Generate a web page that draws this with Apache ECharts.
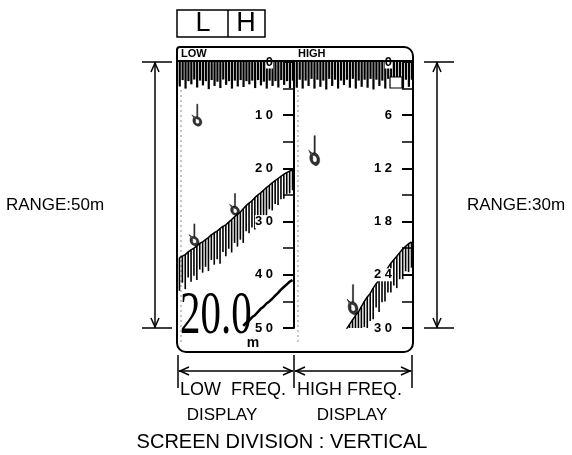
<!DOCTYPE html>
<html>
<head>
<meta charset="utf-8">
<script src="https://cdn.jsdelivr.net/npm/echarts@6/dist/echarts.min.js"></script>
<style>
  html, body { margin: 0; padding: 0; background: #fff; }
  #chart { width: 572px; height: 455px; }
</style>
</head>
<body>
<div id="chart"></div>
<script>
// scan columns (left = oldest, right = newest) – same for both halves
const columns = [];
for (let i = 0; i < 40; i++) columns.push(i);

// seabed depth (m) per column
const bottomDepth = [36.8, 36.5, 36.2, 35.7, 35.3, 35.0, 34.6, 34.1, 33.8, 33.4,
  33.0, 32.5, 32.1, 31.8, 31.3, 30.9, 30.6, 30.1, 29.6, 29.1,
  28.6, 28.2, 27.6, 27.0, 26.5, 26.1, 25.5, 25.0, 24.6, 24.1,
  23.6, 23.2, 22.7, 22.3, 21.9, 21.5, 21.1, 20.8, 20.5, 20.3];
// thickness of seabed echo (m) on each frequency
const bandLow = [6.2, 5.0, 6.5, 4.8, 6.0, 5.2, 6.4, 4.9, 5.8, 5.1,
  6.3, 4.7, 6.0, 5.3, 6.6, 4.8, 5.9, 5.0, 6.2, 4.9,
  6.1, 5.2, 6.4, 4.8, 5.7, 5.0, 6.0, 4.6, 5.6, 4.9,
  5.8, 4.5, 5.2, 4.4, 5.0, 4.3, 4.6, 4.0, 4.2, 3.8];
const bandHigh = [3.6, 2.9, 3.8, 3.0, 3.5, 2.8, 3.9, 3.1, 3.4, 2.9,
  3.7, 3.0, 3.6, 2.8, 3.8, 3.1, 3.5, 2.9, 3.7, 3.0,
  3.9, 3.2, 3.6, 2.9, 3.8, 3.1, 3.5, 2.7, 3.6, 3.0,
  3.4, 2.8, 3.3, 2.9, 3.6, 3.0, 3.4, 2.8, 3.2, 2.9];
// transmission (zero) line echo length (m)
const zeroLow = [4.6, 3.4, 5.0, 3.6, 4.2, 3.3, 4.8, 3.5, 4.4, 3.6,
  5.1, 3.4, 4.5, 3.7, 4.9, 3.3, 4.3, 3.6, 5.0, 3.5,
  4.6, 3.4, 4.7, 3.6, 4.2, 3.5, 4.9, 3.4, 4.4, 3.7,
  5.0, 3.5, 4.5, 3.6, 4.8, 3.4, 4.3, 3.6, 4.9, 3.5];
const zeroHigh = [2.9, 2.0, 3.0, 2.1, 2.7, 1.9, 3.0, 2.0, 2.8, 2.1,
  3.1, 1.9, 2.7, 2.0, 3.0, 2.1, 2.6, 2.0, 2.9, 1.9,
  3.0, 2.1, 2.8, 2.0, 2.9, 1.9, 3.1, 2.0, 2.7, 2.1,
  3.0, 1.9, 2.8, 2.0, 2.9, 2.1, 3.0, 2.0, 2.8, 2.0];
// second (double) bottom echo on low frequency
const doubleBottom = [null, null, null, null, null, null, null, null, null, null,
  null, null, null, null, null, null, null, null, null, null,
  null, null, 49.6, 49.0, 48.6, 48.0, 47.6, 47.0, 46.4, 46.0,
  45.4, 45.0, 44.5, 43.9, 43.4, 42.8, 42.3, 41.8, 41.3, 41.0];
// fish echoes
const fishCols = [6, 19, 5];
const fishDepth = [10.0, 26.8, 32.5];

const lowTicks = { max: 50, interval: 10 };
const highTicks = { max: 30, interval: 6 };

const fishPath = 'path://M4.5,0 L5.5,0 L5.5,11 L4.5,11 Z M2,11 C0,13 1,17 4,18 C7,20 10,17 9,14 C8,11 5,10 2,11 Z M3,12.5 C5,12 7,13 7,15 C7,17 4,17 3.5,15.5 C3,14.5 4,14 3,12.5 Z M0,9 L3,11 L2,12 Z';

const chart = echarts.init(document.getElementById('chart'));

function yAxisFor(idx, t) {
  return {
    type: 'value', gridIndex: idx, inverse: true, min: 0, max: t.max, interval: t.interval,
    position: 'right', z: 20,
    axisLine: { show: true, lineStyle: { color: '#000', width: 2 } },
    axisTick: { show: true, inside: true, length: 11, lineStyle: { color: '#000', width: 2 } },
    minorTick: { show: true, splitNumber: 2, length: 11, lineStyle: { color: '#000', width: 1.5 } },
    axisLabel: {
      inside: true, margin: 21, color: '#000', fontSize: 13, fontWeight: 'bold',
      fontFamily: 'Liberation Sans', backgroundColor: '#fff',
      formatter: v => String(v).split('').join(' ')
    },
    splitLine: { show: false }
  };
}

function echoSeries(idx, zero, band) {
  return [
    {
      type: 'bar', xAxisIndex: idx, yAxisIndex: idx, data: zero, stack: 'z' + idx,
      barWidth: 2.2, barGap: '-100%', itemStyle: { color: '#000' }, silent: true
    },
    {
      type: 'bar', xAxisIndex: idx, yAxisIndex: idx, data: bottomDepth, stack: 's' + idx,
      barWidth: 1.6, barGap: '-100%', itemStyle: { color: 'rgba(0,0,0,0)' }, silent: true
    },
    {
      type: 'bar', xAxisIndex: idx, yAxisIndex: idx, data: band, stack: 's' + idx,
      barWidth: 1.6, barGap: '-100%', itemStyle: { color: '#000' }, silent: true
    },
    {
      type: 'line', xAxisIndex: idx, yAxisIndex: idx, data: bottomDepth, symbol: 'none',
      lineStyle: { color: '#000', width: 1.5 }, silent: true
    },
    {
      type: 'scatter', xAxisIndex: idx, yAxisIndex: idx,
      data: fishCols.map((c, i) => [c, fishDepth[i]]),
      symbol: fishPath, symbolSize: idx === 0 ? [10, 22] : [11, 30],
      itemStyle: { color: '#000', borderColor: '#000', borderWidth: 0.5 }, silent: true
    }
  ];
}

function arrowV(x, y1, y2) {
  return [
    { type: 'line', shape: { x1: x, y1: y1, x2: x, y2: y2 }, style: { stroke: '#000', lineWidth: 1.5 } },
    { type: 'line', shape: { x1: x - 13, y1: y1, x2: x + 17, y2: y1 }, style: { stroke: '#000', lineWidth: 1.5 } },
    { type: 'line', shape: { x1: x - 13, y1: y2, x2: x + 17, y2: y2 }, style: { stroke: '#000', lineWidth: 1.5 } },
    { type: 'polyline', shape: { points: [[x - 4, y1 + 10], [x, y1 + 1], [x + 4, y1 + 10]] }, style: { stroke: '#000', lineWidth: 1.5, fill: null } },
    { type: 'polyline', shape: { points: [[x - 4, y2 - 10], [x, y2 - 1], [x + 4, y2 - 10]] }, style: { stroke: '#000', lineWidth: 1.5, fill: null } }
  ];
}

function arrowH(x1, x2, y) {
  return [
    { type: 'line', shape: { x1: x1, y1: y, x2: x2, y2: y }, style: { stroke: '#000', lineWidth: 1.5 } },
    { type: 'polyline', shape: { points: [[x1 + 10, y - 4], [x1 + 1, y], [x1 + 10, y + 4]] }, style: { stroke: '#000', lineWidth: 1.5, fill: null } },
    { type: 'polyline', shape: { points: [[x2 - 10, y - 4], [x2 - 1, y], [x2 - 10, y + 4]] }, style: { stroke: '#000', lineWidth: 1.5, fill: null } }
  ];
}

function txt(x, y, s, size, align, extra) {
  return {
    type: 'text', x: x, y: y, z: 50,
    style: Object.assign({
      text: s, fill: '#000', font: size + 'px "Liberation Sans"',
      textAlign: align || 'center', textVerticalAlign: 'middle'
    }, extra || {})
  };
}

const graphics = [].concat(
  [
    { type: 'rect', shape: { x: 177, y: 10, width: 88, height: 27 }, style: { stroke: '#000', lineWidth: 1.5, fill: null } },
    { type: 'line', shape: { x1: 228, y1: 10, x2: 228, y2: 37 }, style: { stroke: '#000', lineWidth: 1.5 } },
    txt(203, 24, 'L', 27),
    txt(246, 24, 'H', 27),
    { type: 'rect', z: 60, shape: { x: 177, y: 47, width: 236, height: 305, r: [3, 9, 9, 9] }, style: { stroke: '#000', lineWidth: 2, fill: null } },
    { type: 'line', z: 60, shape: { x1: 178, y1: 61, x2: 412, y2: 61 }, style: { stroke: '#000', lineWidth: 2 } },
    txt(181, 54, 'LOW', 11, 'left', { font: 'bold 11px "Liberation Sans"' }),
    txt(298, 54, 'HIGH', 11, 'left', { font: 'bold 11px "Liberation Sans"' }),
    { type: 'rect', z: 60, shape: { x: 390, y: 77, width: 12, height: 11 }, style: { stroke: '#000', lineWidth: 1.2, fill: '#fff' } },
    { type: 'line', shape: { x1: 181, y1: 90, x2: 181, y2: 345 }, style: { stroke: '#888', lineWidth: 1, lineDash: [2, 3] } },
    { type: 'line', shape: { x1: 298, y1: 90, x2: 298, y2: 345 }, style: { stroke: '#888', lineWidth: 1, lineDash: [2, 3] } },
    txt(55, 205, 'RANGE:50m', 17),
    txt(516, 205, 'RANGE:30m', 17),
    { type: 'line', shape: { x1: 178, y1: 355, x2: 178, y2: 388 }, style: { stroke: '#000', lineWidth: 1.5 } },
    { type: 'line', shape: { x1: 294, y1: 355, x2: 294, y2: 388 }, style: { stroke: '#000', lineWidth: 1.5 } },
    { type: 'line', shape: { x1: 412, y1: 355, x2: 412, y2: 388 }, style: { stroke: '#000', lineWidth: 1.5 } },
    txt(180, 390, 'LOW  FREQ.', 18, 'left'),
    txt(297, 390, 'HIGH FREQ.', 18, 'left'),
    txt(222, 415, 'DISPLAY', 17),
    txt(352, 415, 'DISPLAY', 17),
    txt(282, 442, 'SCREEN DIVISION : VERTICAL', 20),
    {
      type: 'text', x: 180, y: 348, z: 50, scaleX: 0.66,
      style: { text: '20.0', fill: '#000', font: '62px "Liberation Sans Narrow"', textAlign: 'left', textVerticalAlign: 'bottom' }
    },
    txt(253, 343, 'm', 14, 'center', { font: 'bold 14px "Liberation Sans"' })
  ],
  arrowV(155, 62, 328),
  arrowV(437, 62, 328),
  arrowH(179, 293, 371),
  arrowH(295, 411, 371)
);

const option = {
  backgroundColor: '#fff',
  animation: false,
  grid: [
    { left: 178, top: 62, width: 116, height: 266 },
    { left: 295, top: 62, width: 118, height: 266 }
  ],
  xAxis: [
    { type: 'category', gridIndex: 0, data: columns, show: false, boundaryGap: true },
    { type: 'category', gridIndex: 1, data: columns, show: false, boundaryGap: true }
  ],
  yAxis: [yAxisFor(0, lowTicks), yAxisFor(1, highTicks)],
  series: echoSeries(0, zeroLow, bandLow).concat(echoSeries(1, zeroHigh, bandHigh), [
    {
      type: 'line', xAxisIndex: 0, yAxisIndex: 0, data: doubleBottom, symbol: 'none',
      lineStyle: { color: '#000', width: 2.5 }, silent: true
    }
  ]),
  graphic: graphics
};

chart.setOption(option);
</script>
</body>
</html>
